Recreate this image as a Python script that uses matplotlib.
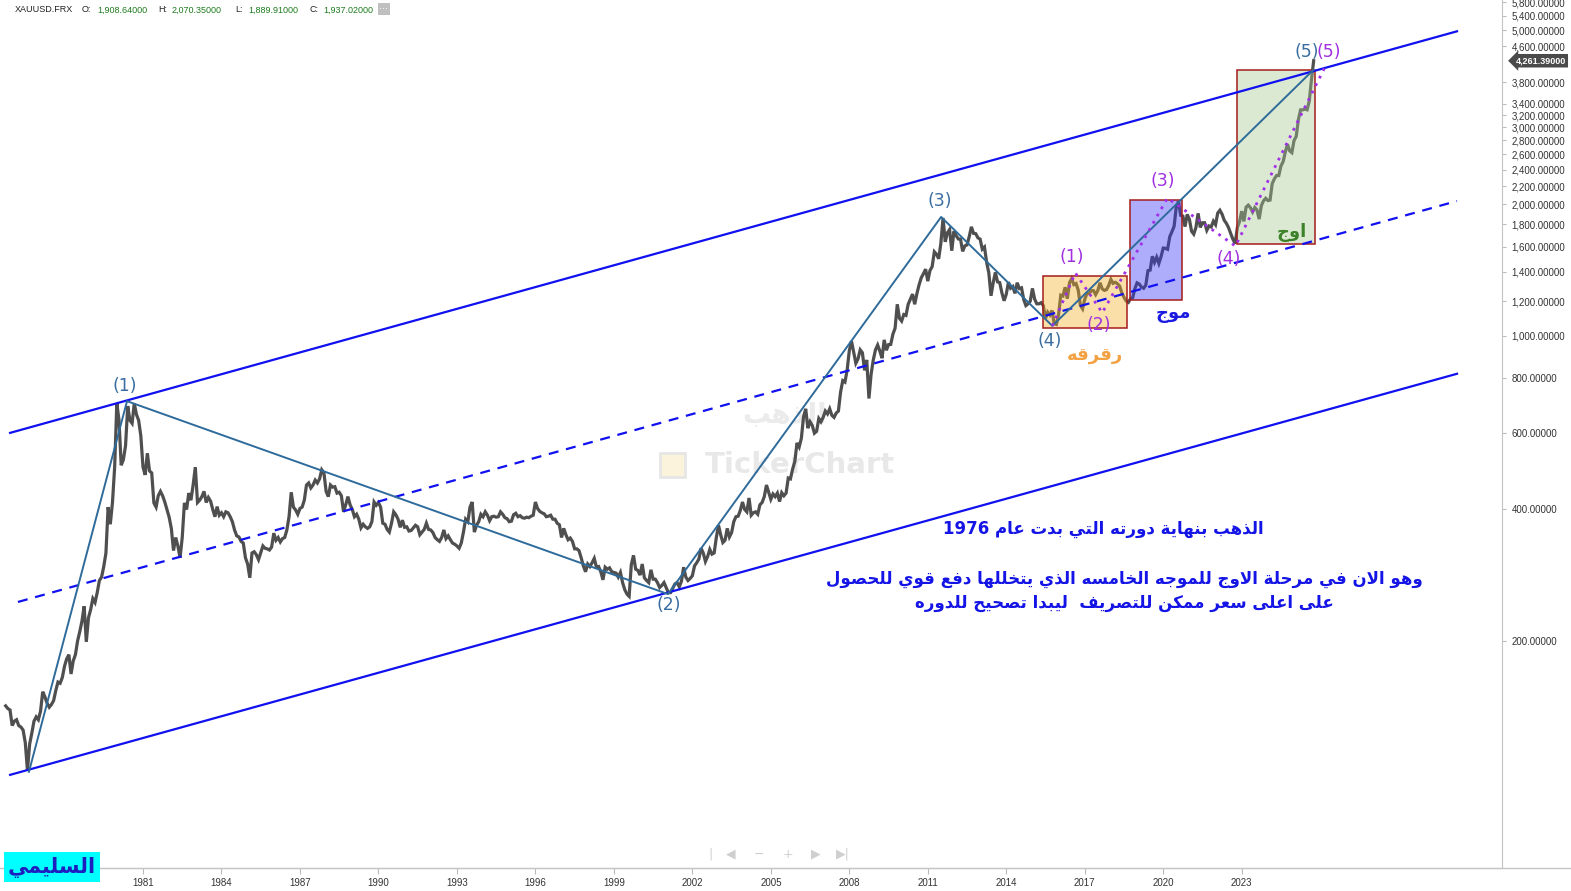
import re
import numpy as np
import matplotlib
matplotlib.use("Agg")
import matplotlib.pyplot as plt
from matplotlib.patches import Rectangle
from matplotlib.ticker import FixedLocator, NullLocator

# ── Data ──────────────────────────────────────────────────────────────────────
START = 1975 + 9 / 12          # Oct 1975, monthly closes
gold = [
    142, 140, 139,
    128, 131, 132, 128, 127, 125, 117, 101, 116, 123, 131, 134,          # 1976
    132, 138, 153, 149, 144, 141, 143, 146, 154, 161, 160, 165,          # 1977
    175, 182, 186, 168, 180, 186, 200, 210, 222, 240, 199, 226,          # 1978
    236, 250, 245, 258, 275, 280, 296, 318, 405, 370, 415, 500,          # 1979
    700, 640, 505, 520, 560, 690, 640, 630, 700, 660, 640, 590,          # 1980
    500, 480, 538, 490, 485, 414, 405, 430, 440, 430, 416, 400,          # 1981
    384, 362, 322, 345, 330, 310, 345, 414, 400, 436, 420, 455,          # 1982
    500, 415, 420, 428, 440, 415, 426, 418, 400, 385, 406, 388,          # 1983
    393, 385, 395, 393, 385, 375, 359, 348, 346, 338, 335, 310,          # 1984
    300, 279, 318, 320, 315, 307, 318, 330, 326, 325, 323, 328,          # 1985
    353, 340, 345, 337, 343, 345, 359, 385, 438, 405, 399, 390,          # 1986
    402, 405, 420, 455, 460, 448, 455, 467, 460, 470, 493, 485,          # 1987
    440, 428, 455, 450, 451, 436, 438, 430, 395, 410, 428, 410,          # 1988
    400, 385, 390, 380, 363, 370, 365, 362, 365, 375, 416, 409,          # 1989
    415, 405, 372, 370, 360, 355, 372, 395, 389, 380, 364, 378,          # 1990
    364, 365, 357, 358, 363, 368, 365, 350, 355, 360, 372, 360,          # 1991
    359, 354, 345, 341, 338, 345, 359, 343, 348, 341, 335, 333,          # 1992
    330, 326, 335, 355, 380, 375, 405, 416, 355, 368, 375, 390,          # 1993
    385, 395, 388, 377, 385, 386, 384, 385, 395, 390, 383, 381,          # 1994
    375, 376, 389, 392, 385, 387, 383, 382, 384, 383, 386, 388,          # 1995
    416, 402, 396, 393, 391, 385, 386, 388, 380, 380, 372, 369,          # 1996
    345, 362, 350, 341, 344, 338, 325, 325, 322, 310, 297, 288,          # 1997
    300, 296, 302, 309, 295, 296, 288, 276, 295, 292, 294, 288,          # 1998
    287, 286, 280, 287, 272, 262, 256, 253, 299, 314, 292, 290,          # 1999
    283, 300, 279, 275, 272, 291, 277, 277, 272, 265, 268, 272,          # 2000
    265, 258, 258, 264, 270, 272, 266, 274, 295, 280, 275, 278,          # 2001
    282, 297, 302, 308, 326, 318, 304, 312, 324, 316, 318, 345,          # 2002
    368, 350, 336, 340, 362, 346, 354, 375, 385, 386, 398, 416,          # 2003
    400, 395, 425, 388, 393, 395, 390, 410, 415, 428, 455, 438,          # 2004
    422, 434, 428, 436, 417, 437, 430, 436, 472, 470, 495, 515,          # 2005
    568, 556, 582, 652, 680, 614, 635, 623, 598, 604, 646, 635,          # 2006
    650, 672, 662, 680, 657, 650, 665, 672, 743, 789, 783, 834,          # 2007
    924, 972, 916, 865, 885, 928, 914, 833, 880, 718, 816, 880,          # 2008
    928, 952, 922, 888, 978, 926, 954, 955, 1008, 1040, 1180, 1096,      # 2009
    1080, 1118, 1113, 1180, 1212, 1245, 1180, 1248, 1307, 1357, 1386, 1420,  # 2010
    1333, 1410, 1439, 1556, 1536, 1500, 1628, 1860, 1640, 1720, 1750, 1565,  # 2011
    1735, 1695, 1665, 1664, 1560, 1605, 1614, 1685, 1775, 1715, 1712, 1675,  # 2012
    1664, 1578, 1596, 1472, 1392, 1234, 1322, 1396, 1328, 1323, 1253, 1202,  # 2013
    1244, 1326, 1284, 1296, 1250, 1322, 1282, 1287, 1210, 1172, 1183, 1199,  # 2014
    1283, 1213, 1183, 1183, 1190, 1172, 1095, 1132, 1115, 1142, 1065, 1061,  # 2015
    1118, 1238, 1233, 1291, 1215, 1322, 1351, 1309, 1316, 1272, 1173, 1152,  # 2016
    1211, 1249, 1249, 1268, 1268, 1242, 1269, 1322, 1280, 1270, 1275, 1303,  # 2017
    1345, 1318, 1325, 1315, 1299, 1253, 1224, 1201, 1192, 1215, 1222, 1282,  # 2018
    1321, 1313, 1292, 1284, 1305, 1409, 1413, 1520, 1472, 1513, 1464, 1517,  # 2019
    1587, 1585, 1577, 1686, 1730, 1781, 1975, 2030, 1886, 1879, 1777, 1895,  # 2020
    1848, 1734, 1708, 1769, 1906, 1770, 1814, 1814, 1743, 1783, 1774, 1829,  # 2021
    1796, 1909, 1937, 1897, 1837, 1807, 1766, 1711, 1661, 1625, 1768, 1824,  # 2022
    1928, 1827, 1969, 1990, 1963, 1919, 1965, 1940, 1849, 1984, 2036, 2063,  # 2023
    2039, 2044, 2230, 2286, 2327, 2326, 2447, 2503, 2634, 2744, 2650, 2625,  # 2024
    2798, 2858, 3124, 3289, 3289, 3303, 3290, 3448, 3858, 4261.39,           # 2025
]

# Elliott waves (decimal year, price)
wave_x = [1976.64, 1980.39, 2001.07, 2011.51, 2015.76, 2025.74]
wave_y = [100.3, 708, 256, 1870, 1053, 4061]
wave_labels = ["(1)", "(2)", "(3)", "(4)", "(5)"]
wave_lab_x = [1980.31, 2001.11, 2011.47, 2015.67, 2025.50]
wave_lab_y = [767, 242, 2034, 972, 4462]

sub_x = [2015.76, 2016.64, 2017.67, 2020.16, 2022.76, 2026.2]
sub_y = [1053, 1392, 1129, 2066, 1604, 4142]
sub_lab_x = [2016.51, 2017.55, 2019.99, 2022.51, 2026.33]
sub_lab_y = [1515, 1058, 2256, 1502, 4462]

# channel (x0, x1), (y0, y1)
chan_x = [1975.92, 2031.23]
upper_y = [599, 4977]
lower_y = [98.7, 818]
mid_x = [1976.22, 2031.23]
mid_y = [245.6, 2034]

# boxes: x0, x1, low, high
box_x0 = [2015.41, 2018.73, 2022.82]
box_x1 = [2018.62, 2020.72, 2025.80]
box_lo = [1040, 1207, 1621]
box_hi = [1370, 2044, 4061]
box_col = ["#F5AF28", "#3434F5", "#A7CA93"]

box_names = ["رقرقه", "موج", "اوج"]
name_x = [2017.39, 2020.37, 2024.92]
name_y = [904, 1123, 1720]
name_col = ["#F2A143", "#1A1AE0", "#3C8228"]

year_ticks = list(range(1981, 2024, 3))
price_ticks = [200, 400, 600, 800, 1000, 1200, 1400, 1600, 1800, 2000, 2200, 2400,
               2600, 2800, 3000, 3200, 3400, 3800, 4600, 5000, 5400, 5800]
last_price = 4261.39

title_lines = ["الذهب بنهاية دورته التي بدت عام 1976",
               "وهو الان في مرحلة الاوج للموجه الخامسه الذي يتخللها دفع قوي للحصول",
               "على اعلى سعر ممكن للتصريف  ليبدا تصحيح للدوره"]

# ── Arabic shaping (matplotlib has no RTL layout) ─────────────────────────────
AR_FORMS = {
    "ا": (0xFE8D, 2), "ب": (0xFE8F, 4), "ة": (0xFE93, 2), "ت": (0xFE95, 4),
    "ج": (0xFE9D, 4), "ح": (0xFEA1, 4), "خ": (0xFEA5, 4), "د": (0xFEA9, 2),
    "ذ": (0xFEAB, 2), "ر": (0xFEAD, 2), "ز": (0xFEAF, 2), "س": (0xFEB1, 4),
    "ص": (0xFEB9, 4), "ع": (0xFEC9, 4), "ف": (0xFED1, 4), "ق": (0xFED5, 4),
    "ك": (0xFED9, 4), "ل": (0xFEDD, 4), "م": (0xFEE1, 4), "ن": (0xFEE5, 4),
    "ه": (0xFEE9, 4), "و": (0xFEED, 2), "ى": (0xFEEF, 2), "ي": (0xFEF1, 4),
}


def ar(text):
    chars, i = [], 0
    while i < len(text):
        if text[i] == "ل" and i + 1 < len(text) and text[i + 1] == "ا":
            chars.append("لا")
            i += 2
        else:
            chars.append(text[i])
            i += 1
    out = []
    for k, c in enumerate(chars):
        prev = chars[k - 1] if k > 0 else None
        nxt = chars[k + 1] if k + 1 < len(chars) else None
        jp = prev in AR_FORMS and AR_FORMS[prev][1] == 4
        if c == "لا":
            out.append("\uFEFC" if jp else "\uFEFB")
            continue
        if c not in AR_FORMS:
            out.append(c)
            continue
        base, n = AR_FORMS[c]
        jn = n == 4 and (nxt in AR_FORMS or nxt == "لا")
        form = 3 if (jp and jn) else 1 if jp else 2 if jn else 0
        out.append(chr(base + form))
    s = "".join(out[::-1])
    return re.sub(r"[0-9]+", lambda m: m.group(0)[::-1], s)


# ── Figure ────────────────────────────────────────────────────────────────────
fig = plt.figure(figsize=(15.71, 8.91), dpi=100)
ax = fig.add_axes([0, 23 / 891, 1502 / 1571, 868 / 891])
ax.set_yscale("log")
ax.set_xlim(1975.534, 2032.95)
ax.set_ylim(60.4, 5870)

x = START + np.arange(len(gold)) / 12
ax.plot(x, gold, color="#4F4F4F", lw=2.3, zorder=2, solid_joinstyle="miter")

for x0, x1, lo, hi, c in zip(box_x0, box_x1, box_lo, box_hi, box_col):
    ax.add_patch(Rectangle((x0, lo), x1 - x0, hi - lo, facecolor=c, alpha=0.4,
                           edgecolor="none", zorder=3))
    ax.add_patch(Rectangle((x0, lo), x1 - x0, hi - lo, fill=False,
                           edgecolor="#A51C1C", lw=1.1, zorder=4))

ax.plot(chan_x, upper_y, color="#1010F0", lw=1.6, zorder=5)
ax.plot(chan_x, lower_y, color="#1010F0", lw=1.6, zorder=5)
ax.plot(mid_x, mid_y, color="#1010F0", lw=1.6, dashes=(4.5, 3.5), zorder=5)

ax.plot(wave_x, wave_y, color="#2F6B9A", lw=1.4, zorder=6)
ax.plot(sub_x, sub_y, color="#A030E8", lw=2.0, ls=(0, (1, 2)), zorder=6)

for lx, ly, t in zip(wave_lab_x, wave_lab_y, wave_labels):
    ax.text(lx, ly, t, color="#3A6EA0", fontsize=12.5, ha="center", va="center", zorder=7)
for lx, ly, t in zip(sub_lab_x, sub_lab_y, wave_labels):
    ax.text(lx, ly, t, color="#A030E0", fontsize=12.5, ha="center", va="center", zorder=7)

for nx, ny, t, c in zip(name_x, name_y, box_names, name_col):
    ax.text(nx, ny, ar(t), color=c, fontsize=13, fontweight="bold",
            ha="center", va="center", zorder=7)

ax.text(1103 / 1502, (868 - 529) / 868, ar(title_lines[0]), transform=ax.transAxes,
        color="#1414E6", fontsize=12, fontweight="bold", ha="center", va="center")
ax.text(1124 / 1502, (868 - 579) / 868, ar(title_lines[1]), transform=ax.transAxes,
        color="#1414E6", fontsize=12, fontweight="bold", ha="center", va="center")
ax.text(1124 / 1502, (868 - 603) / 868, ar(title_lines[2]), transform=ax.transAxes,
        color="#1414E6", fontsize=12, fontweight="bold", ha="center", va="center")

# watermark
ax.text(785 / 1502, (868 - 415) / 868, ar("الذهب"), transform=ax.transAxes,
        color="#EBEBEB", fontsize=20, fontweight="bold", ha="center", va="center", zorder=0)
ax.text(800 / 1502, (868 - 465) / 868, "TickerChart", transform=ax.transAxes,
        color="#E8E8E8", fontsize=21, fontweight="bold", ha="center", va="center", zorder=0)
ax.add_patch(Rectangle((660 / 1502, (868 - 477) / 868), 25 / 1502, 24 / 868,
                       transform=ax.transAxes, facecolor="#FBF3DC",
                       edgecolor="#E6E6E6", lw=2, zorder=0))

# axes styling
for s in ["top", "left"]:
    ax.spines[s].set_visible(False)
ax.spines["right"].set_color("#C4C4C4")
ax.spines["bottom"].set_color("#C4C4C4")
ax.yaxis.tick_right()
ax.yaxis.set_major_locator(FixedLocator(price_ticks))
ax.yaxis.set_minor_locator(NullLocator())
ax.set_yticklabels([f"{v:,.5f}" for v in price_ticks])
ax.set_xticks(year_ticks)
ax.set_xticklabels([str(y) for y in year_ticks])
ax.tick_params(axis="y", length=3, color="#BBBBBB", labelsize=7, labelcolor="#333333",
               pad=4)
ax.tick_params(axis="x", length=4, color="#BBBBBB", labelsize=7, labelcolor="#333333",
               pad=3)
for lab in ax.get_xticklabels() + ax.get_yticklabels():
    lab.set_family("Liberation Sans")

ax.text(1.009, last_price, f"{last_price:,.5f}", transform=ax.get_yaxis_transform(),
        color="white", fontsize=6.5, family="Liberation Sans", fontweight="bold",
        ha="left", va="center", zorder=8,
        bbox=dict(boxstyle="larrow,pad=0.25", facecolor="#4A4A4A", edgecolor="none"),
        clip_on=False)

# bottom line across full width
fig.add_artist(plt.Line2D([0, 1], [23 / 891, 23 / 891], color="#C4C4C4", lw=1))

# header
hdr = [(15, "XAUUSD.FRX", "#222222"), (82, "O:", "#222222"), (97, "1,908.64000", "#1E7B1E"),
       (158, "H:", "#222222"), (172, "2,070.35000", "#1E7B1E"), (235, "L:", "#222222"),
       (248, "1,889.91000", "#1E7B1E"), (310, "C:", "#222222"), (323, "1,937.02000", "#1E7B1E")]
for px, t, c in hdr:
    fig.text(px / 1571, 1 - 10 / 891, t, color=c, fontsize=6.5, ha="left", va="center",
             family="Liberation Sans")
fig.text(384 / 1571, 1 - 9 / 891, "···", color="white", fontsize=7, ha="center", va="center",
         bbox=dict(boxstyle="square,pad=0.15", facecolor="#C0C0C0", edgecolor="none"))

# navigation buttons
for px, t in [(710, "|"), (731, "◀"), (759, "−"), (788, "+"), (816, "▶"), (843, "▶|")]:
    fig.text(px / 1571, 1 - 854 / 891, t, color="#CFCFCF", fontsize=9, ha="center",
             va="center")

# author tag
fig.text(52 / 1571, 1 - 867 / 891, ar("السليمي"), color="#1E1EC0", fontsize=15,
         fontweight="bold", ha="center", va="center", zorder=10,
         bbox=dict(boxstyle="square,pad=0.2", facecolor="#00FFFF", edgecolor="none"))

fig.savefig("out.png", dpi=100)
